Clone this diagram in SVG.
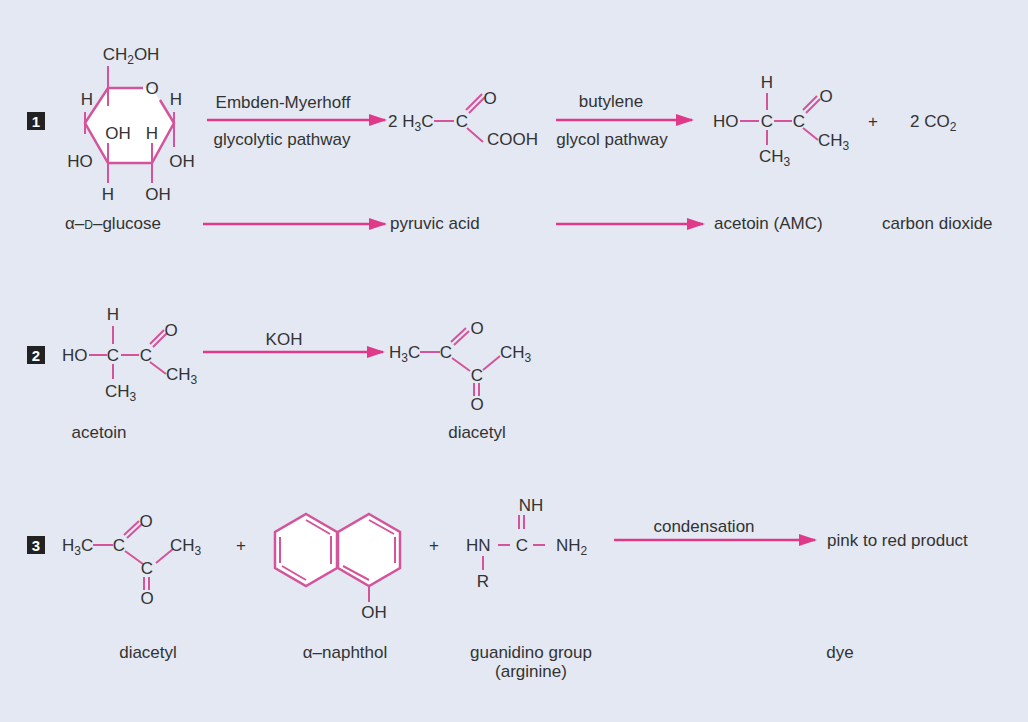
<svg xmlns="http://www.w3.org/2000/svg" width="1028" height="722" viewBox="0 0 1028 722">
<style>
text{font-family:"Liberation Sans",Arial,sans-serif;font-size:17px;fill:#333}
.c{text-anchor:middle}
.b{stroke:#d4549c;stroke-width:2;fill:none}
.r{stroke:#d4549c;stroke-width:2.5;fill:#fff}
.a{stroke:#e0398a;stroke-width:2.5;fill:none;marker-end:url(#ah)}
.n{fill:#fff;font-weight:bold;font-size:15px}
.s{font-size:12px}
</style>
<defs><marker id="ah" markerWidth="18" markerHeight="12" refX="16" refY="6" orient="auto" markerUnits="userSpaceOnUse"><path d="M0,0 L18,6 L0,12 Z" fill="#e0398a"/></marker></defs>
<rect width="1028" height="722" fill="#e3e8f2"/>
<g id="labels">
<rect x="27" y="112" width="18" height="18" fill="#222"/><text class="n c" x="36" y="127">1</text>
<rect x="27" y="346" width="18" height="18" fill="#222"/><text class="n c" x="36" y="361">2</text>
<rect x="27" y="536" width="18" height="18" fill="#222"/><text class="n c" x="36" y="551">3</text>
</g>
<g id="glucose">
<polygon fill="#fff" points="108,88 152,88 174,123 152,163 108,163 85,123"/>
<path class="r" fill="none" d="M143,88H108L85,123L108,163H152L174,123L160,100"/>
<path class="b" d="M108,66V106 M85,112V134 M174,112V147 M108,143V183 M152,143V183"/>
<text class="c" x="131" y="60">CH<tspan class="s" dy="4">2</tspan><tspan dy="-4">OH</tspan></text>
<text class="c" x="152" y="94">O</text>
<text class="c" x="87" y="105">H</text><text class="c" x="176" y="105">H</text>
<text class="c" x="80" y="167">HO</text><text class="c" x="182" y="167">OH</text>
<text class="c" x="118" y="139">OH</text><text class="c" x="152" y="139">H</text>
<text class="c" x="108" y="200">H</text><text class="c" x="158" y="200">OH</text>
<text class="c" x="113" y="229">α–<tspan font-size="12">D</tspan>–glucose</text>
</g>
<g id="pyruvate">
<text x="388" y="127">2 H<tspan class="s" dy="4">3</tspan><tspan dy="-4">C</tspan></text>
<path class="b" d="M434,121H454 M466,110L482,94 M469,113L485,97 M467,128L483,142"/>
<text class="c" x="462" y="127">C</text><text class="c" x="490" y="104">O</text>
<text x="487" y="145">COOH</text>
<text x="390" y="229">pyruvic acid</text>
</g>
<g id="acetoin1">
<text x="713" y="127">HO</text>
<path class="b" d="M740,121H759 M774,121H792 M767,93V110 M767,130V145 M803,110L817,96 M806,113L820,99 M803,128L818,140"/>
<text class="c" x="767" y="127">C</text><text class="c" x="799" y="127">C</text>
<text class="c" x="767" y="88">H</text><text class="c" x="826" y="102">O</text>
<text x="818" y="146">CH<tspan class="s" dy="4">3</tspan></text>
<text x="759" y="162">CH<tspan class="s" dy="4">3</tspan></text>
<text class="c" x="873" y="127">+</text>
<text x="910" y="127">2 CO<tspan class="s" dy="4">2</tspan></text>
<text x="714" y="229">acetoin (AMC)</text>
<text x="882" y="229">carbon dioxide</text>
</g>
<g id="acetoin2">
<text x="62" y="361">HO</text>
<path class="b" d="M89,355H107 M121,355H139 M113,326V344 M113,364V379 M150,344L164,330 M153,347L167,333 M150,362L166,374"/>
<text class="c" x="113" y="361">C</text><text class="c" x="146" y="361">C</text>
<text class="c" x="113" y="320">H</text><text class="c" x="171" y="336">O</text>
<text x="166" y="380">CH<tspan class="s" dy="4">3</tspan></text>
<text x="105" y="397">CH<tspan class="s" dy="4">3</tspan></text>
<text class="c" x="99" y="438">acetoin</text>
</g>
<g id="diacetyl2">
<text x="389" y="358">H<tspan class="s" dy="4">3</tspan><tspan dy="-4">C</tspan></text>
<path class="b" d="M420,352H440 M451,342L466,328 M454,345L469,331 M452,358L470,371 M483,370L500,356 M474,383V396 M479,383V396"/>
<text class="c" x="446" y="358">C</text><text class="c" x="477" y="381">C</text>
<text class="c" x="477" y="334">O</text><text class="c" x="477" y="410">O</text>
<text x="500" y="358">CH<tspan class="s" dy="4">3</tspan></text>
<text class="c" x="477" y="438">diacetyl</text>
</g>
<g id="diacetyl3">
<text x="62" y="551">H<tspan class="s" dy="4">3</tspan><tspan dy="-4">C</tspan></text>
<path class="b" d="M93,545H113 M124,535L139,521 M127,538L142,524 M125,551L143,564 M156,563L173,549 M144,577V590 M149,577V590"/>
<text class="c" x="119" y="551">C</text><text class="c" x="147" y="574">C</text>
<text class="c" x="146" y="527">O</text><text class="c" x="147" y="604">O</text>
<text x="170" y="551">CH<tspan class="s" dy="4">3</tspan></text>
<text class="c" x="241" y="551">+</text>
<text class="c" x="148" y="658">diacetyl</text>
</g>
<g id="naphthol">
<polygon class="r" points="306,514 337,532 337,568 306,586 275,568 275,532"/>
<polygon class="r" points="369,514 400,532 400,568 369,586 338,568 338,532"/>
<path class="b" d="M331,536V564 M280,537V563 M306,520L330,534 M306,580L282,566 M369,520L394,534 M395,537V563 M369,580L343,566 M369,586V602"/>
<text class="c" x="374" y="618">OH</text>
<text class="c" x="345" y="658">α–naphthol</text>
</g>
<g id="guanidino">
<text class="c" x="434" y="551">+</text>
<text x="466" y="551">HN</text>
<path class="b" d="M498,545H510 M533,545H545 M519,515V529 M524,515V529 M483,556V570"/>
<text class="c" x="522" y="551">C</text>
<text class="c" x="531" y="511">NH</text>
<text x="556" y="551">NH<tspan class="s" dy="4">2</tspan></text>
<text class="c" x="483" y="587">R</text>
<text class="c" x="531" y="658">guanidino group</text>
<text class="c" x="531" y="677">(arginine)</text>
</g>
<g id="dye">
<text x="827" y="546">pink to red product</text>
<text class="c" x="840" y="658">dye</text>
</g>
<g id="connectors">
<path class="a" d="M207,120H385"/><path class="a" d="M203,224H385"/>
<path class="a" d="M556,120H692"/><path class="a" d="M556,224H703"/>
<path class="a" d="M203,352H383"/><path class="a" d="M614,540H815"/>
<text class="c" x="283" y="108">Embden-Myerhoff</text>
<text class="c" x="282" y="145">glycolytic pathway</text>
<text class="c" x="611" y="107">butylene</text>
<text class="c" x="612" y="145">glycol pathway</text>
<text class="c" x="284" y="345">KOH</text>
<text class="c" x="704" y="532">condensation</text>
</g>
</svg>
